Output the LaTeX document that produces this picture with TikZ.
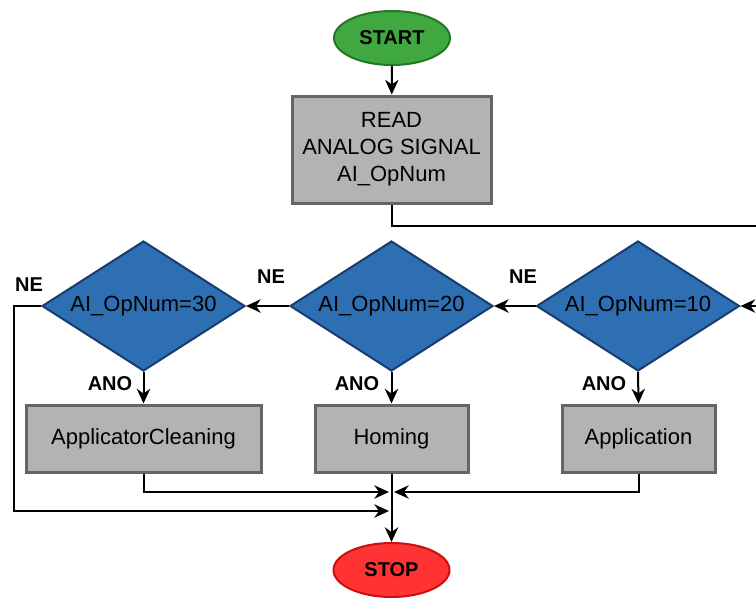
\documentclass[tikz,border=0pt]{standalone}
\usepackage{fontspec}
\setmainfont{Liberation Sans}
\usetikzlibrary{shapes.geometric,arrows.meta}
\definecolor{startfill}{RGB}{64,168,64}
\definecolor{startdraw}{RGB}{36,120,36}
\definecolor{stopfill}{RGB}{255,51,51}
\definecolor{stopdraw}{RGB}{200,16,16}
\definecolor{boxfill}{RGB}{179,179,179}
\definecolor{boxdraw}{RGB}{102,102,102}
\definecolor{dfill}{RGB}{46,110,178}
\definecolor{ddraw}{RGB}{24,60,110}
\tikzset{
  term/.style={ellipse, draw, line width=1.5pt, minimum width=87pt, minimum height=40.5pt, inner sep=0pt, font=\fontsize{15}{18}\selectfont\bfseries},
  procbox/.style={rectangle, draw=boxdraw, fill=boxfill, line width=2.25pt, minimum height=50.25pt, inner sep=0pt, align=center, font=\fontsize{16.5}{20.25}\selectfont},
  decision/.style={diamond, aspect=1.56, draw=ddraw, fill=dfill, line width=1.5pt, minimum width=152.25pt, minimum height=97.5pt, inner sep=0pt, font=\fontsize{16.5}{20}\selectfont},
  lbl/.style={inner sep=0pt, font=\fontsize{15}{18}\selectfont\bfseries},
  conn/.style={line width=1.5pt, -{Stealth[length=11pt,width=10pt,inset=3.5pt]}},
  plain/.style={line width=1.5pt}
}
\begin{document}
\begin{tikzpicture}[x=0.75pt,y=-0.75pt]
\clip (0,0) rectangle (756,597);
\fill[white] (0,0) rectangle (756,597);

\node[term, fill=startfill, draw=startdraw] (start) at (392,38) {START};
\node[procbox, minimum width=149.25pt, minimum height=80.25pt] (read) at (391.5,149.5) {READ\\ANALOG SIGNAL\\AI\_OpNum};

\node[decision] (d30) at (143.5,306) {AI\_OpNum=30};
\node[decision] (d20) at (391.5,306) {AI\_OpNum=20};
\node[decision] (d10) at (638,306) {AI\_OpNum=10};

\node[procbox, minimum width=176.25pt] (b30) at (143.5,438.5) {ApplicatorCleaning};
\node[procbox, minimum width=114.75pt] (b20) at (391.5,438.5) {Homing};
\node[procbox, minimum width=114.75pt] (b10) at (638.5,438.5) {Application};

\node[term, fill=stopfill, draw=stopdraw] (stop) at (391.5,570) {STOP};

\node[lbl] (ne1) at (523,277) {NE};
\node[lbl] (ne2) at (271,277) {NE};
\node[lbl] (ne3) at (29,285) {NE};
\node[lbl] (ano1) at (110,384) {ANO};
\node[lbl] (ano2) at (357,384) {ANO};
\node[lbl] (ano3) at (604,384) {ANO};

\coordinate (r1) at (391.5,226);
\coordinate (r2) at (762,226);
\coordinate (r3) at (762,306);
\coordinate (l1) at (14,306);
\coordinate (l2) at (14,511);
\coordinate (m1) at (389,492);
\coordinate (m2) at (394,492);
\coordinate (m3) at (389,511);
\coordinate (a1) at (143.5,492);
\coordinate (a3) at (638.5,492);

\draw[conn] (start) -- (read);
\draw[conn] (read.south) -- (r1) -- (r2) -- (r3) -- (d10.east);
\draw[conn] (d10.west) -- (d20.east);
\draw[conn] (d20.west) -- (d30.east);
\draw[conn] (d30.west) -- (l1) -- (l2) -- (m3);
\draw[conn] (d30.south) -- (b30.north);
\draw[conn] (d20.south) -- (b20.north);
\draw[conn] (d10.south) -- (b10.north);
\draw[conn] (b30.south) -- (a1) -- (m1);
\draw[conn] (b10.south) -- (a3) -- (m2);
\draw[conn] (b20.south) -- (stop.north);
\end{tikzpicture}
\end{document}
